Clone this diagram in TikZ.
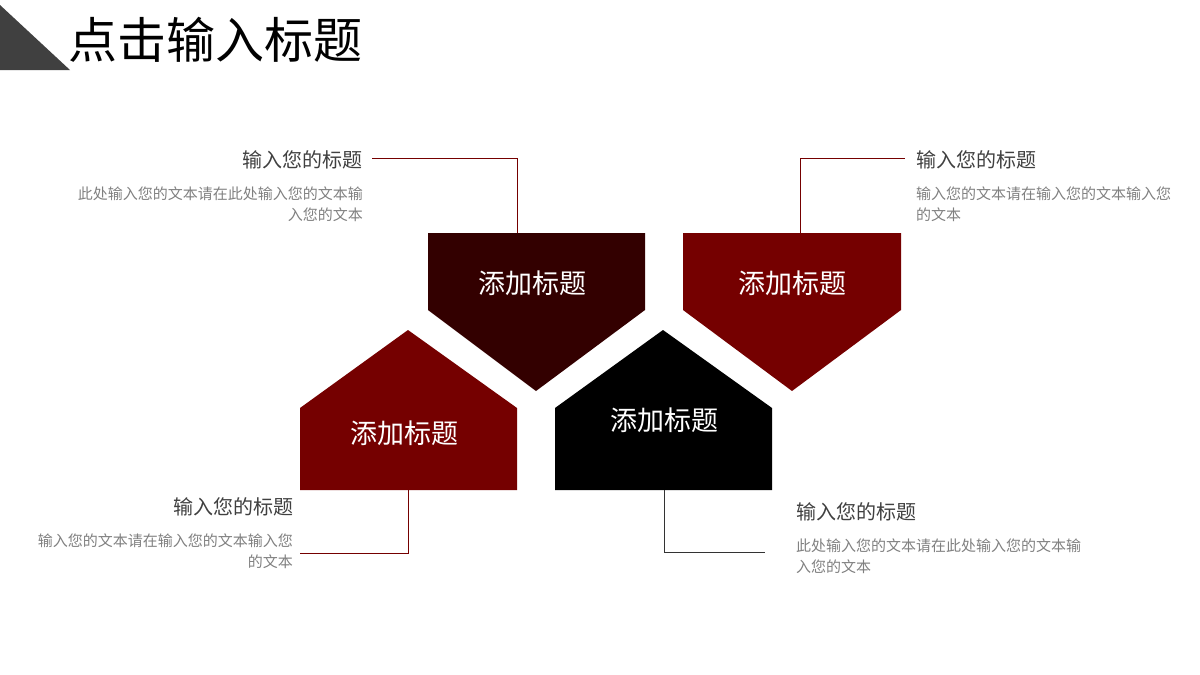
\documentclass[tikz,border=0pt]{standalone}
\usepackage{fontspec}
\setmainfont{Noto Sans CJK SC}
\begin{document}
\begin{tikzpicture}[x=1pt,y=-1pt,
  hd/.style={font=\fontsize{20}{22}\selectfont, text=black!75, inner sep=0},
  ds/.style={font=\fontsize{15}{21}\selectfont, text=black!50, inner sep=0},
  lab/.style={font=\fontsize{27}{30}\selectfont, text=white},
  ln/.style={draw=#1, line width=0.8pt}]
\useasboundingbox (0,0) rectangle (1200,675);
\definecolor{dkm}{HTML}{330000}
\definecolor{rd}{HTML}{750000}
\fill[black!75] (0,5) -- (0,70) -- (70,70) -- cycle;
\node[anchor=west, inner sep=0, font=\fontsize{49}{52}\selectfont] (title) at (68,40) {点击输入标题};
% shapes
\fill[dkm] (428,233) -- (645,233) -- (645,310) -- (536,391) -- (428,310) -- cycle;
\fill[rd] (683,233) -- (901,233) -- (901,310) -- (792,391) -- (683,310) -- cycle;
\fill[rd] (300,490) -- (517,490) -- (517,408) -- (408,330) -- (300,408) -- cycle;
\fill[black] (555,490) -- (772,490) -- (772,408) -- (663,330) -- (555,408) -- cycle;
\node[lab] (la) at (532,283) {添加标题};
\node[lab] (lb) at (792,283) {添加标题};
\node[lab] (lc) at (404,433) {添加标题};
\node[lab] (ld) at (664,420) {添加标题};
% connectors
\coordinate (a1) at (517,233); \coordinate (a2) at (372,158);
\draw[ln=rd] (a1) |- (a2);
\coordinate (b1) at (800,233); \coordinate (b2) at (905,158);
\draw[ln=rd] (b1) |- (b2);
\coordinate (c1) at (408,490); \coordinate (c2) at (300,553);
\draw[ln=rd] (c1) |- (c2);
\coordinate (d1) at (664,490); \coordinate (d2) at (765,552);
\draw[ln=black!80] (d1) |- (d2);
% texts
\node[hd, anchor=east] (h1) at (363,160) {输入您的标题};
\node[ds, anchor=north east, align=right] (t1) at (363,187) {此处输入您的文本请在此处输入您的文本输\\入您的文本};
\node[hd, anchor=west] (h2) at (916,160) {输入您的标题};
\node[ds, anchor=north west, align=left] (t2) at (916,187) {输入您的文本请在输入您的文本输入您\\的文本};
\node[hd, anchor=west] (h3) at (173,507) {输入您的标题};
\node[ds, anchor=north east, align=right] (t3) at (293,534) {输入您的文本请在输入您的文本输入您\\的文本};
\node[hd, anchor=west] (h4) at (796,512) {输入您的标题};
\node[ds, anchor=north west, align=left] (t4) at (796,539) {此处输入您的文本请在此处输入您的文本输\\入您的文本};
\end{tikzpicture}
\end{document}
